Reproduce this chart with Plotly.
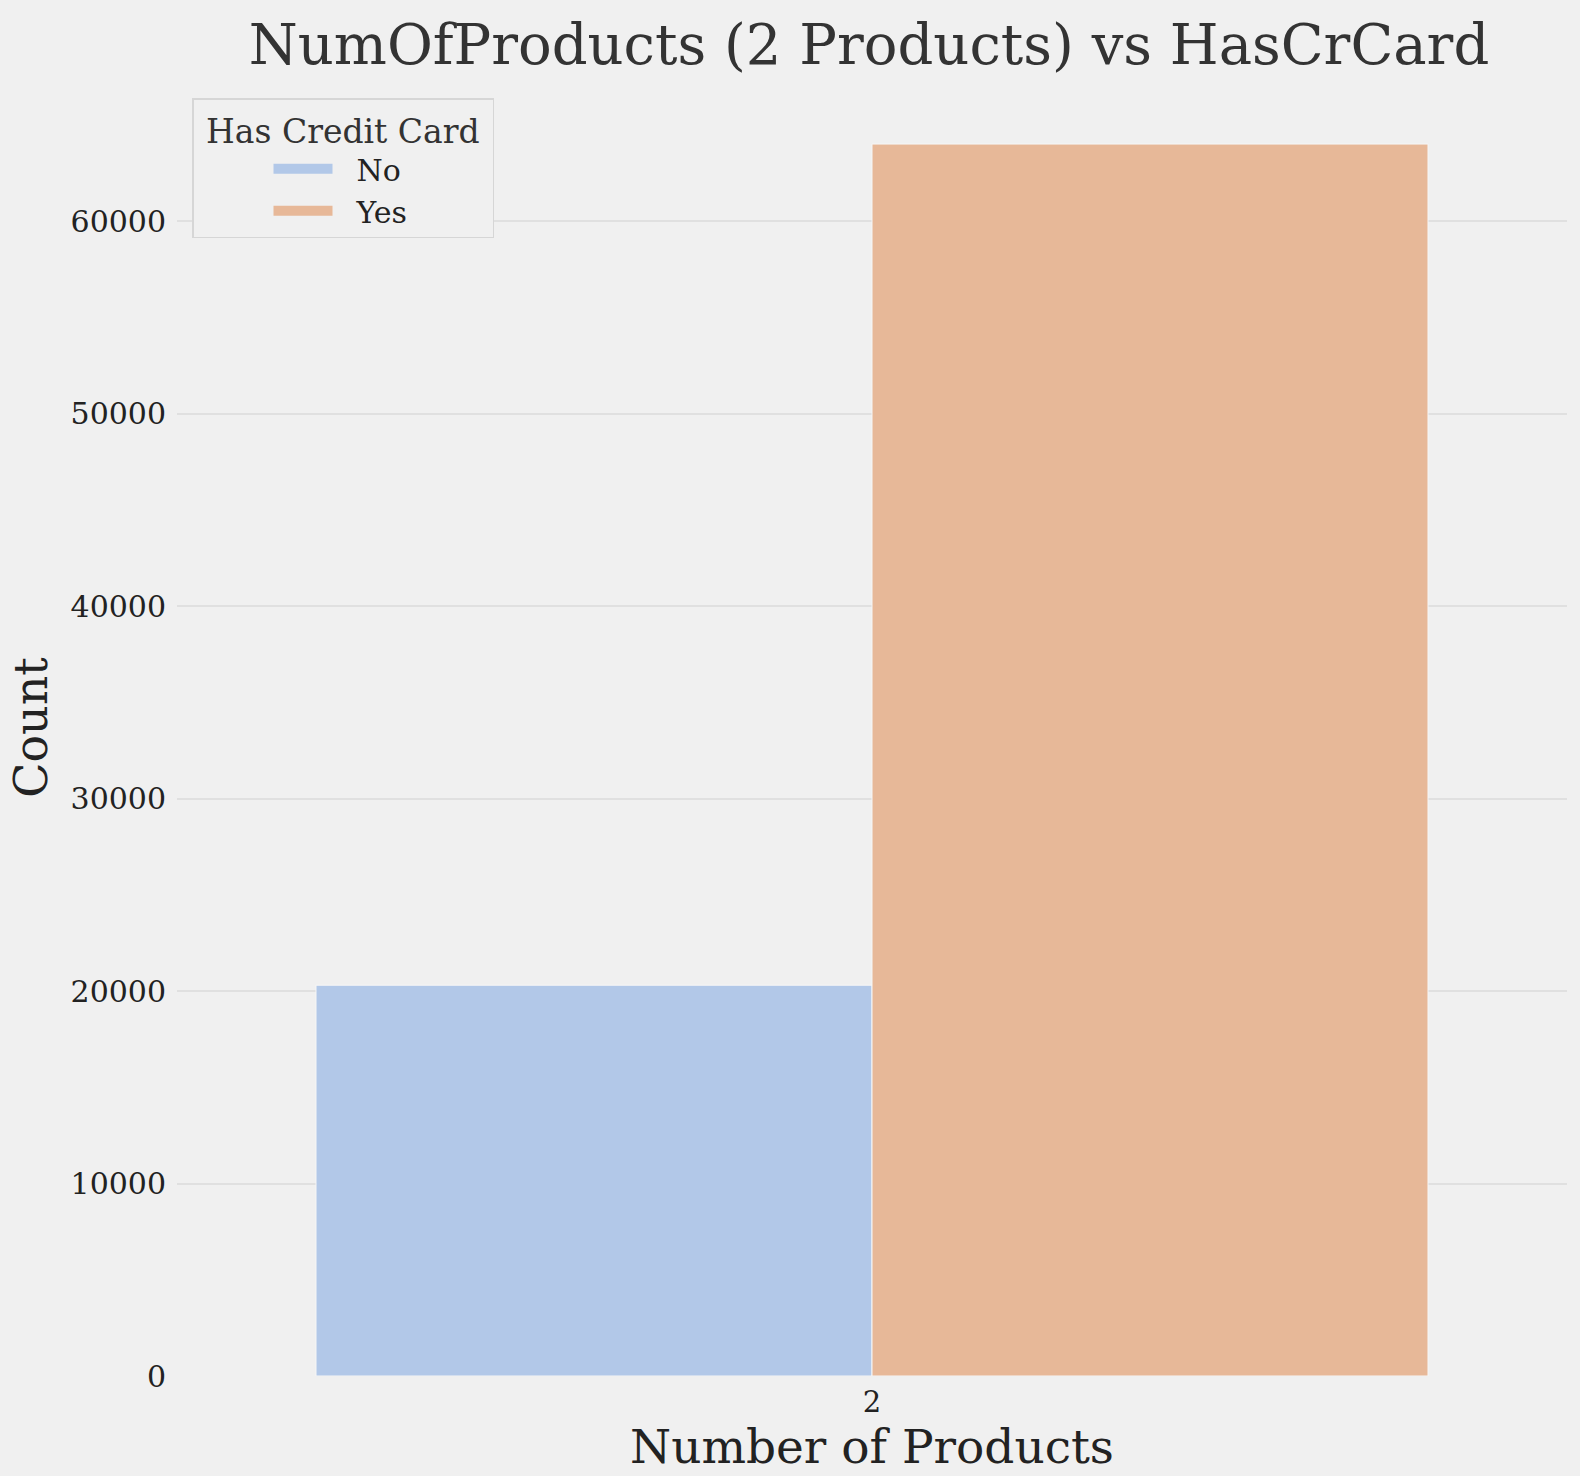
import plotly.graph_objects as go

categories = ["2"]
series_names = ["No", "Yes"]
values_no = [20300]
values_yes = [64000]
colors = ["#b2c8e8", "#e7b898"]
ytick_vals = [0, 10000, 20000, 30000, 40000, 50000, 60000]
ytick_text = ["0", "10000", "20000", "30000", "40000", "50000", "60000"]

font_family = "DejaVu Serif"
NBSP = "\u00a0"

fig = go.Figure()
for name, vals, col in zip(series_names, [values_no, values_yes], colors):
    fig.add_trace(go.Bar(
        x=categories, y=vals, name=name, showlegend=False,
        marker=dict(color=col, line=dict(color="#f6f6f6", width=1)),
    ))
# legend entries drawn as wide swatches
for name, col in zip(series_names, colors):
    fig.add_trace(go.Scatter(
        x=[None], y=[None], name=NBSP * 2 + name, mode="lines",
        line=dict(color=col, width=20),
    ))

fig.update_layout(
    width=1580, height=1476,
    paper_bgcolor="#f0f0f0", plot_bgcolor="#f0f0f0",
    margin=dict(l=177, r=13, t=79, b=100, autoexpand=False),
    barmode="group", bargap=0.2, bargroupgap=0,
    font=dict(family=font_family, color="#333333", size=28),
    title=dict(text="NumOfProducts (2 Products) vs HasCrCard",
               x=0.55, xanchor="center", y=0.970, yanchor="middle",
               font=dict(size=56, color="#333333")),
    legend=dict(
        x=0.0108, y=0.985, xanchor="left", yanchor="top",
        bgcolor="#f0f0f0", bordercolor="#d6d6d6", borderwidth=1.5,
        title=dict(text=NBSP + "Has Credit Card" + NBSP, font=dict(size=33, color="#333333")),
        font=dict(size=30, color="#222222"),
        indentation=75,
        itemwidth=59,
        tracegroupgap=0,
    ),
    xaxis=dict(
        type="category", showgrid=False, zeroline=False, showline=False,
        ticks="", tickfont=dict(size=29, color="#222222"),
        ticklabelstandoff=6,
        title=dict(text="Number of Products", font=dict(size=47, color="#222222"), standoff=6),
    ),
    yaxis=dict(
        range=[0, 67380], tickvals=ytick_vals, ticktext=ytick_text, ticks="",
        showgrid=True, gridcolor="#e0e0e0", gridwidth=2,
        zeroline=False, showline=False,
        tickfont=dict(size=30, color="#222222"),
        ticklabelstandoff=10,
        title=dict(text="Count", font=dict(size=46, color="#222222"), standoff=8),
    ),
)

fig.write_html(
    "out.html",
    config={"displayModeBar": False},
    post_script="document.body.style.margin='0';document.body.style.background='#f0f0f0';",
)
